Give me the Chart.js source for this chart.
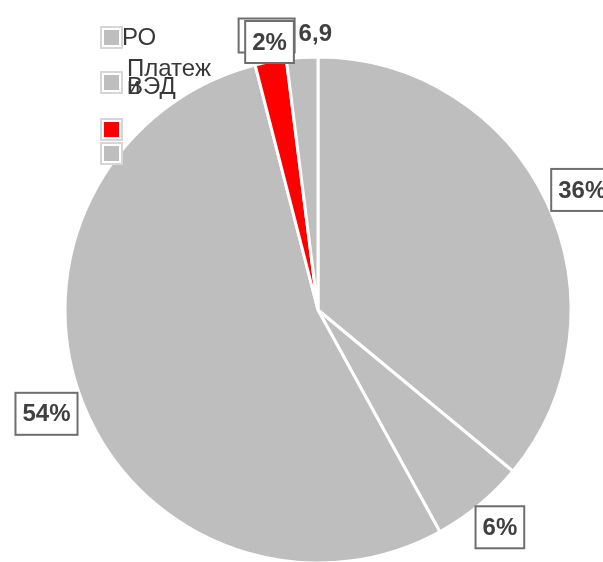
<!DOCTYPE html>
<html>
<head>
<meta charset="utf-8">
<script src="https://cdn.jsdelivr.net/npm/chart.js@4/dist/chart.umd.min.js"></script>
<style>
  html, body { margin: 0; padding: 0; background: #fff; }
  #wrap { width: 603px; height: 562px; position: relative; }
</style>
</head>
<body>
<div id="wrap"><canvas id="graficoPastel"></canvas></div>
<script>
// datos del gráfico
const categorias = ['', 'РО', 'Платежи ВЭД', '', ''];
const valores = [36, 6, 54, 2, 2];
const colores = ['#bebebe', '#bebebe', '#bebebe', '#ff0000', '#bebebe'];
const textoCortado = '6,9'; // resto de la etiqueta del último sector

const total = valores.reduce((a, b) => a + b, 0);
const etiquetas = valores.map(v => Math.round(v / total * 100) + '%');

// leyenda a mano (filas de altura irregular, la primera queda fuera)
const leyendaPlugin = {
    id: 'leyendaManual',
    afterDraw(chart) {
        const ctx = chart.ctx;
        const filasY = [-40, 37, 82, 129, 153];
        ctx.save();
        ctx.font = '24px "Liberation Sans", Arial, sans-serif';
        ctx.textBaseline = 'alphabetic';
        categorias.forEach((cat, i) => {
            const cy = filasY[i];
            // cuadrito
            ctx.fillStyle = '#fff';
            ctx.strokeStyle = '#d6d6d6';
            ctx.lineWidth = 2;
            ctx.fillRect(101, cy - 10, 21, 21);
            ctx.strokeRect(101, cy - 10, 21, 21);
            ctx.fillStyle = colores[i];
            ctx.fillRect(104, cy - 7, 15, 15);
            if (!cat) return;
            // texto con corte de línea
            const maxW = 90;
            const palabras = cat.split(' ');
            const lineas = [];
            let linea = 0;
            palabras.forEach(p => {
                let cabe = p;
                while (ctx.measureText(cabe).width > maxW && cabe.length > 1) cabe = cabe.slice(0, -1);
                lineas.push({ t: cabe, l: linea });
                if (cabe.length < p.length) lineas.push({ t: p.slice(cabe.length), l: linea + 1 });
                linea++;
            });
            const nLineas = Math.max(...lineas.map(o => o.l)) + 1;
            const base0 = cy + 8 - (nLineas - 1) * 14;
            ctx.fillStyle = '#383838';
            const x0 = nLineas > 1 ? 127 : 122;
            lineas.forEach(o => ctx.fillText(o.t, x0, base0 + o.l * 18));
        });
        ctx.restore();
    }
};

function caja(ctx, x, y, w, h) {
    ctx.fillStyle = '#fff';
    ctx.fillRect(x, y, w, h);
    ctx.strokeStyle = '#6e6e6e';
    ctx.lineWidth = 2;
    ctx.strokeRect(x, y, w, h);
}

// etiquetas de porcentaje en cajas fuera del pastel
const etiquetasPlugin = {
    id: 'etiquetasCaja',
    afterDatasetsDraw(chart) {
        const ctx = chart.ctx;
        const meta = chart.getDatasetMeta(0);
        ctx.save();
        ctx.font = 'bold 24px "Liberation Sans", Arial, sans-serif';
        for (let i = meta.data.length - 1; i >= 0; i--) {
            const arc = meta.data[i];
            const p = arc.getProps(['x', 'y', 'startAngle', 'endAngle', 'outerRadius'], true);
            const mid = (p.startAngle + p.endAngle) / 2;
            const dx = Math.cos(mid), dy = Math.sin(mid);
            const ax = p.x + dx * (p.outerRadius + 8);
            const ay = p.y + dy * (p.outerRadius + 8);
            if (i === meta.data.length - 1) {
                // la caja de este sector queda tapada por la del 2%
                caja(ctx, ax - 63, ay - 31, 56, 34);
                ctx.fillStyle = '#404040';
                ctx.textAlign = 'left';
                ctx.textBaseline = 'alphabetic';
                ctx.fillText(textoCortado, ax - 3, ay - 9);
                continue;
            }
            const texto = etiquetas[i];
            const w = ctx.measureText(texto).width + 14;
            const h = 42;
            let cx = ax + dx * w / 2;
            let cy = ay + dy * h / 2;
            // no dejar que la caja se salga por arriba
            if (cy < 42) { cx += 5; cy = 42; }
            caja(ctx, cx - w / 2, cy - h / 2, w, h);
            ctx.fillStyle = '#404040';
            ctx.textAlign = 'center';
            ctx.textBaseline = 'middle';
            ctx.fillText(texto, cx, cy + 1);
        }
        ctx.restore();
    }
};

const ctx = document.getElementById('graficoPastel').getContext('2d');
const miGrafico = new Chart(ctx, {
    type: 'pie',
    data: {
        labels: categorias,
        datasets: [{
            data: valores,
            backgroundColor: colores,
            borderColor: '#ffffff',
            borderWidth: 3
        }]
    },
    options: {
        responsive: true,
        maintainAspectRatio: false,
        animation: false,
        radius: 253,
        layout: { padding: { left: 40, right: 7, top: 60, bottom: 2 } },
        plugins: {
            legend: { display: false },
            tooltip: { enabled: false }
        }
    },
    plugins: [etiquetasPlugin, leyendaPlugin]
});
</script>
</body>
</html>
